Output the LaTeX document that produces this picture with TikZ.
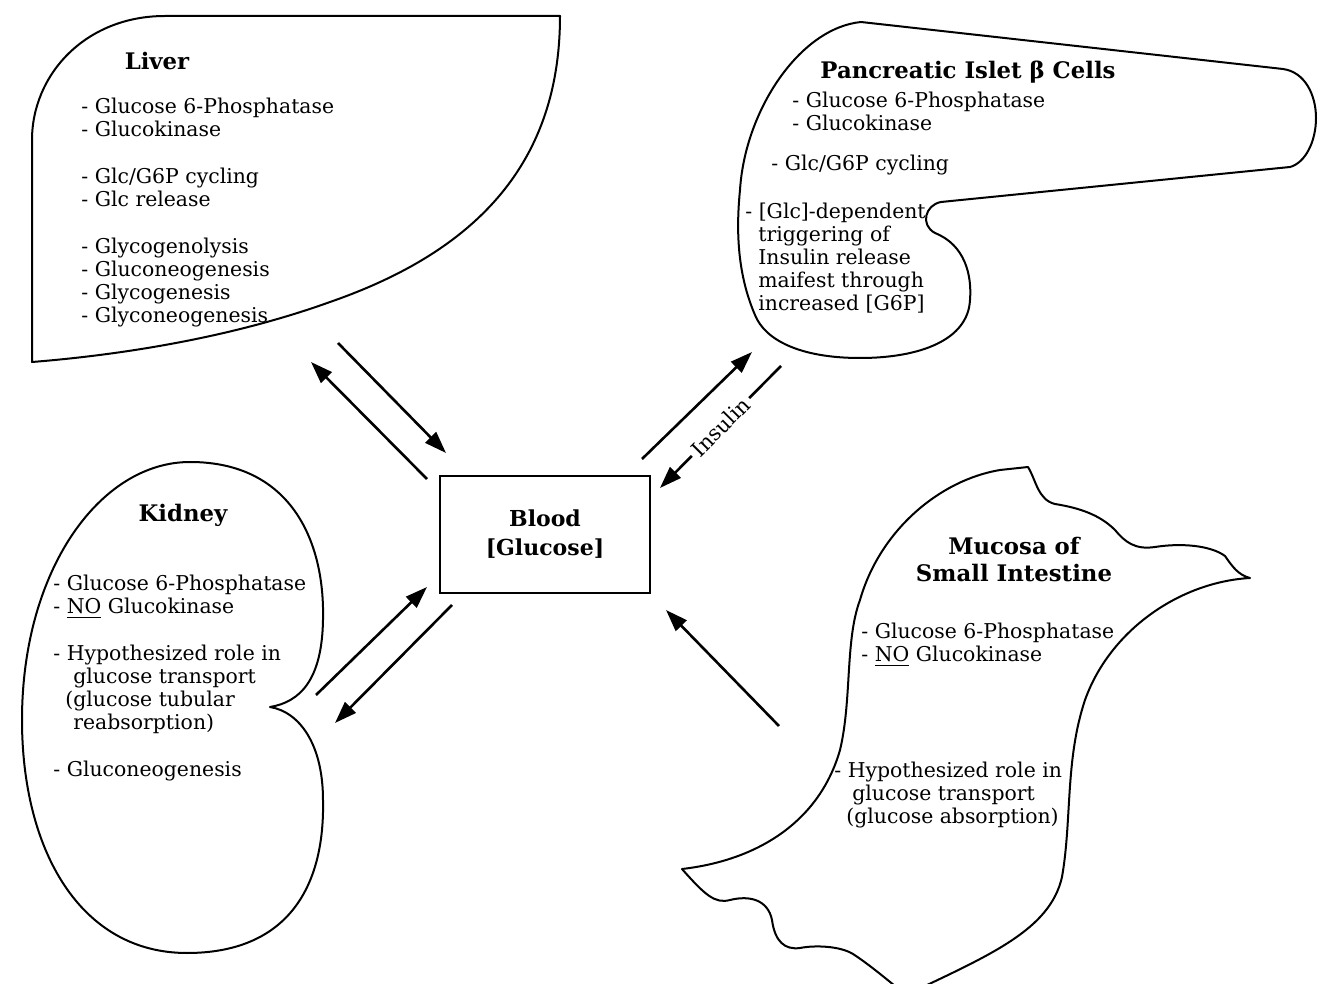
\documentclass[tikz,border=0pt]{standalone}
\usepackage{fontspec}
\setmainfont{DejaVu Serif}
\usepackage{tikz}
\usetikzlibrary{arrows.meta}
\tikzset{
  organ/.style={draw=black, line width=1pt, line join=round},
  organtitle/.style={font=\bfseries\fontsize{11.4}{13.5}\selectfont, inner sep=0pt, align=center},
  organlist/.style={font=\fontsize{10.2}{11.5}\selectfont, inner sep=0pt, align=left, anchor=north west},
  flow/.style={-{Triangle[length=11pt,width=7.5pt]}, line width=1.3pt},
}

\begin{document}
\begin{tikzpicture}[x=0.5pt, y=-0.5pt]
  \clip (0,0) rectangle (1319,984);
  % organ outlines
  \draw[organ] (32,362) -- (32,140) .. controls (32,75) and (85,16) .. (165,16) -- (560,16)
    .. controls (560,160) and (480,250) .. (330,302) .. controls (230,338) and (120,355) .. (32,362) -- cycle;
  \draw[organ] (861,22) -- (1283,69) .. controls (1305,72) and (1316,95) .. (1316,118)
    .. controls (1316,142) and (1305,163) .. (1290,167) -- (941,202)
    .. controls (925,205) and (920,225) .. (935,233) .. controls (965,245) and (972,275) .. (970,300)
    .. controls (968,340) and (920,358) .. (860,358) .. controls (800,358) and (765,340) .. (755,315)
    .. controls (740,280) and (735,240) .. (740,190) .. controls (745,110) and (800,28) .. (861,22) -- cycle;
  \draw[organ] (190,462) .. controls (290,462) and (325,540) .. (323,620)
    .. controls (322,680) and (300,702) .. (270,707) .. controls (300,712) and (323,745) .. (323,800)
    .. controls (325,890) and (285,953) .. (187,953) .. controls (80,953) and (22,850) .. (22,720)
    .. controls (22,570) and (100,462) .. (190,462) -- cycle;
  \draw[organ] (1028,467) .. controls (1036,480) and (1038,500) .. (1055,504)
    .. controls (1080,508) and (1100,515) .. (1115,530) .. controls (1125,542) and (1135,550) .. (1155,547)
    .. controls (1180,543) and (1210,545) .. (1225,556) .. controls (1232,566) and (1238,575) .. (1250,578)
    .. controls (1180,582) and (1110,630) .. (1085,700) .. controls (1065,760) and (1072,820) .. (1062,877)
    .. controls (1050,930) and (990,955) .. (906,995)
    .. controls (890,982) and (870,965) .. (853,954) .. controls (840,946) and (815,945) .. (800,948)
    .. controls (785,950) and (775,942) .. (772,920) .. controls (768,900) and (750,895) .. (730,900)
    .. controls (715,904) and (705,895) .. (682,869)
    .. controls (760,860) and (820,820) .. (840,750) .. controls (852,700) and (845,640) .. (860,600)
    .. controls (880,530) and (940,480) .. (1000,470) -- cycle;

  % liver
  \node[organtitle, anchor=base] (livertitle) at (157,70) {Liver};
  \node[organlist] (liverlist) at (81,98) {- Glucose 6-Phosphatase\\- Glucokinase\\[12pt]
    - Glc/G6P cycling\\- Glc release\\[12pt]
    - Glycogenolysis\\- Gluconeogenesis\\- Glycogenesis\\- Glyconeogenesis};

  % pancreas
  \node[organtitle, anchor=base] (pancreastitle) at (968,79) {Pancreatic Islet β Cells};
  \node[organlist] (pancreaslistA) at (792,92) {- Glucose 6-Phosphatase\\- Glucokinase};
  \node[organlist] (pancreaslistB) at (771,155) {- Glc/G6P cycling};
  \node[organlist] (pancreaslistC) at (745,203) {- [Glc]-dependent\\
    \hspace*{6.5pt}triggering of\\\hspace*{6.5pt}Insulin release\\
    \hspace*{6.5pt}maifest through\\\hspace*{6.5pt}increased [G6P]};

  % kidney
  \node[organtitle, anchor=base] (kidneytitle) at (183,522) {Kidney};
  \node[organlist] (kidneylist) at (53,575) {- Glucose 6-Phosphatase\\- \underline{NO} Glucokinase\\[12pt]
    - Hypothesized role in\\\hspace*{10pt}glucose transport\\\hspace*{6pt}(glucose tubular\\
    \hspace*{10pt}reabsorption)\\[12pt]
    - Gluconeogenesis};

  % small intestine
  \node[organtitle, anchor=north] (mucosatitle) at (1014,537) {Mucosa of\\Small Intestine};
  \node[organlist] (mucosalistA) at (861,623) {- Glucose 6-Phosphatase\\- \underline{NO} Glucokinase};
  \node[organlist] (mucosalistB) at (834,762) {- Hypothesized role in\\
    \hspace*{9pt}glucose transport\\\hspace*{6pt}(glucose absorption)};

  % blood
  \node[draw, line width=1pt, minimum width=105pt, minimum height=58.5pt, align=center,
    font=\bfseries\fontsize{11}{14.5}\selectfont] (blood) at (545,534.5) {Blood\\{[Glucose]}};

  % exchange arrows
  \coordinate (lvA) at (427,479);  \coordinate (lvB) at (311,362);
  \coordinate (lvC) at (338,343);  \coordinate (lvD) at (446,453);
  \coordinate (pcA) at (642,459);  \coordinate (pcB) at (752,352);
  \coordinate (pcC) at (781,366);  \coordinate (pcD) at (660,488);
  \coordinate (kdA) at (316,695);  \coordinate (kdB) at (427,587);
  \coordinate (kdC) at (452,605);  \coordinate (kdD) at (335,723);
  \coordinate (siA) at (779,726);  \coordinate (siB) at (666,610);
  \draw[flow] (lvA) -- (lvB);
  \draw[flow] (lvC) -- (lvD);
  \draw[flow] (pcA) -- (pcB);
  \draw[flow] (pcC) -- node[sloped, fill=white, inner sep=2pt,
    font=\fontsize{10.5}{12}\selectfont] (insulin) {Insulin} (pcD);
  \draw[flow] (kdA) -- (kdB);
  \draw[flow] (kdC) -- (kdD);
  \draw[flow] (siA) -- (siB);
\end{tikzpicture}
\end{document}
